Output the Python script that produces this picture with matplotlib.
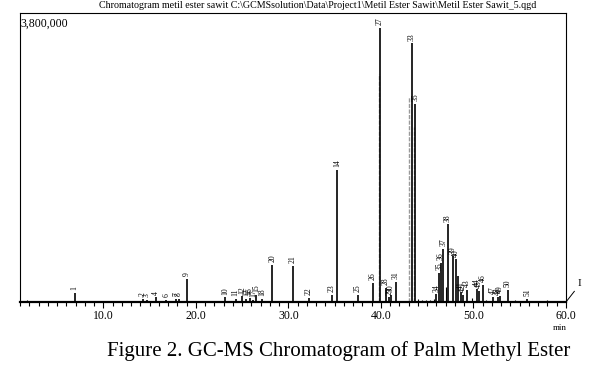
import matplotlib
matplotlib.use('Agg')
from matplotlib import pyplot as plt
from matplotlib.ticker import MultipleLocator, FixedFormatter

plt.rcParams['font.family'] = ['Liberation Serif', 'DejaVu Serif']

# retention time (min), peak height (counts), peak label
peak_times = [6.9, 14.3, 14.7, 15.7, 16.8, 17.9, 18.2, 19.07,
              23.2, 24.3, 25.0, 25.4, 25.8, 26.2, 26.5, 27.2,
              28.25, 30.5, 32.2, 34.7, 35.3, 37.5, 39.1, 39.9,
              40.5, 40.9, 41.1, 41.6, 43.37, 43.7,
              46.0, 46.3, 46.5, 46.75, 47.25, 47.8, 48.1, 48.3,
              48.6, 48.9, 49.3, 50.4, 50.6, 51.0, 52.1, 52.6, 52.9,
              53.7, 55.8]
peak_heights = [120000, 40000, 30000, 60000, 30000, 40000, 45000, 305000,
                60000, 40000, 75000, 40000, 50000, 30000, 95000, 40000,
                490000, 477000, 55000, 95000, 1735000, 95000, 250000, 3600000,
                185000, 60000, 95000, 265000, 3400000, 2600000,
                100000, 384000, 516000, 700000, 1020000, 600000, 560000, 344000,
                130000, 90000, 160000, 172000, 150000, 225000, 66000, 60000, 80000,
                160000, 40000]
peak_labels = ['1', '2', '3', '4', '6', '7', '8', '9',
               '10', '11', '12', '13', '16', '17', '15', '18',
               '20', '21', '22', '23', '14', '25', '26', '27',
               '28', '29', '30', '31', '33', '35',
               '34', '35', '36', '37', '38', '39', '40', '',
               '41', '42', '43', '44', '45', '46', '47', '48', '49',
               '50', '51']

# shoulders drawn in grey next to the main peaks
shoulder_times = [39.75, 43.05, 43.55]
shoulder_heights = [3000000, 2700000, 2300000]

# small unlabelled baseline bumps
noise_times = [1.8, 4.0, 44.0, 44.4, 44.9, 45.3, 45.7, 47.0, 49.8, 51.4, 54.5, 58.0]
noise_heights = [20000, 12000, 40000, 30000, 25000, 30000, 45000, 200000, 50000, 30000, 20000, 25000]

xticks = [10, 20, 30, 40, 50, 60]
xtick_labels = ['10.0', '20.0', '30.0', '40.0', '50.0', '60.0']

fig = plt.figure(figsize=(5.91, 3.77), dpi=100)
ax = fig.add_axes([20 / 591, 1 - 302 / 377, 546 / 591, 289 / 377])

ax.vlines(shoulder_times, 0, shoulder_heights, color='#999999', linewidth=1.0, linestyles=(0, (3, 1)))
ax.vlines(peak_times, 0, peak_heights, color='black', linewidth=1.2)
ax.vlines(noise_times, 0, noise_heights, color='black', linewidth=0.8)

for t, h, lab in zip(peak_times, peak_heights, peak_labels):
    if lab:
        ax.annotate(lab, (t, h), xytext=(0, 2), textcoords='offset points',
                    rotation=90, ha='center', va='bottom', fontsize=5.5)

ax.set_xlim(1.0, 60.0)
ax.set_ylim(0, 3800000)
ax.set_yticks([])
ax.set_xticks(xticks)
ax.xaxis.set_major_formatter(FixedFormatter(xtick_labels))
ax.xaxis.set_minor_locator(MultipleLocator(1))
ax.tick_params(axis='x', which='major', length=4, width=0.8, labelsize=8.5, pad=2)
ax.tick_params(axis='x', which='minor', length=3, width=0.8)
for side in ['left', 'right', 'top']:
    ax.spines[side].set_linewidth(0.8)
ax.spines['bottom'].set_linewidth(1.6)

ax.text(0.0, 0.985, '3,800,000', transform=ax.transAxes, ha='left', va='top', fontsize=8.5)
fig.text(318 / 591, 1 - 6 / 377,
         r'Chromatogram metil ester sawit C:\GCMSsolution\Data\Project1\Metil Ester Sawit\Metil Ester Sawit_5.qgd',
         ha='center', va='center', fontsize=7.2)

# axis end mark on the right
ax.plot([60, 60.9], [0, 140000], color='black', linewidth=0.7, clip_on=False)
ax.text(61.3, 180000, 'I', fontsize=8, ha='left', va='bottom', clip_on=False)
ax.text(59.3, -0.075, 'min', transform=ax.get_xaxis_transform(), fontsize=6.5, ha='center', va='top')

fig.text(570 / 591, 1 - 351 / 377, 'Figure 2. GC-MS Chromatogram of Palm Methyl Ester',
         ha='right', va='center', fontsize=15)

fig.savefig('out.png', dpi=100)
